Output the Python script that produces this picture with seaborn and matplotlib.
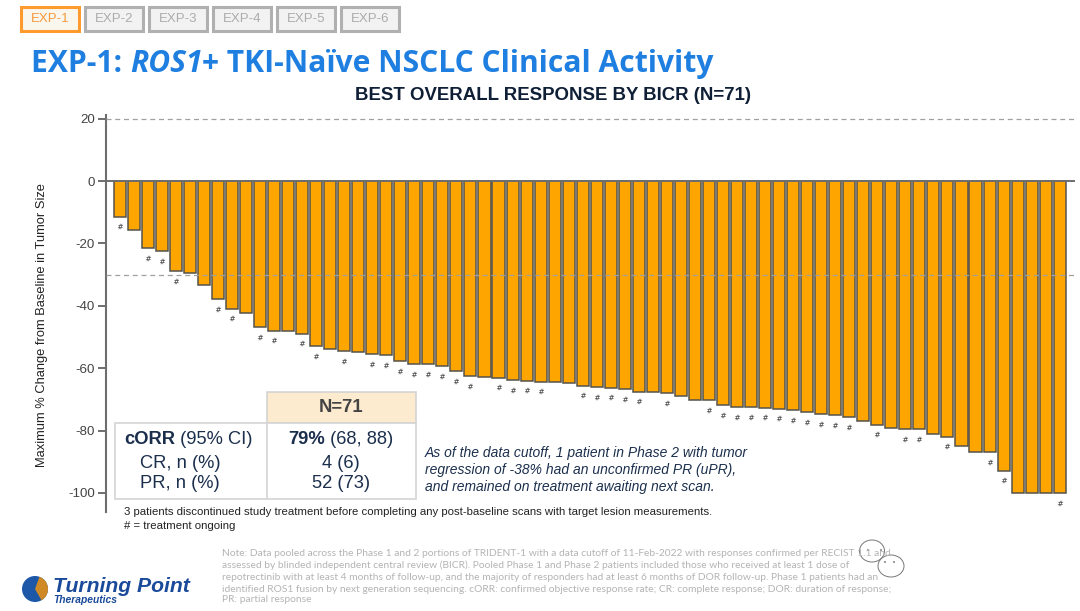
import pandas as pd
import matplotlib.pyplot as plt
import seaborn as sns
from matplotlib.patches import Rectangle, Ellipse, Circle, Wedge

pct_change = [-11.4, -15.6, -21.6, -22.4, -29.0, -29.6, -33.2, -37.9, -40.9, -42.2,
              -46.8, -48.0, -48.0, -48.9, -53.0, -54.0, -54.6, -54.9, -55.5, -55.9,
              -57.7, -58.8, -58.8, -59.4, -61.0, -62.6, -62.9, -63.0, -63.9, -64.0,
              -64.3, -64.5, -64.7, -65.6, -66.1, -66.2, -66.7, -67.5, -67.5, -68.1,
              -69.0, -70.3, -70.3, -71.9, -72.5, -72.5, -72.6, -73.0, -73.5, -74.1,
              -74.8, -75.0, -75.8, -76.9, -78.1, -79.1, -79.5, -79.6, -81.0, -81.9,
              -84.8, -86.9, -86.9, -92.8, -100, -100, -100, -100]
ongoing = [0, 2, 3, 4, 7, 8, 10, 11, 13, 14, 16, 18, 19, 20, 21, 22, 23, 24, 25, 27,
           28, 29, 30, 33, 34, 35, 36, 37, 39, 42, 43, 44, 45, 46, 47, 48, 49, 50, 51,
           52, 54, 56, 57, 59, 62, 63, 67]
y_ticks = [20, 0, -20, -40, -60, -80, -100]
ref_lines = [20, -30]
tabs = ['EXP-1', 'EXP-2', 'EXP-3', 'EXP-4', 'EXP-5', 'EXP-6']

sns.set_theme(style='white')
plt.rcParams['font.family'] = ['Liberation Sans', 'DejaVu Sans']
plt.rcParams['axes.unicode_minus'] = False

NAVY = '#1b2f4d'
BLUE = '#1f7fe0'

fig = plt.figure(figsize=(10.8, 6.11), dpi=100)
ax = fig.add_axes([106 / 1080, 1 - 511.7 / 611, 969 / 1080, 396.2 / 611])

df = pd.DataFrame({'patient': range(len(pct_change)), 'change': pct_change})
sns.barplot(data=df, x='patient', y='change', color='#ffa500', saturation=1, width=0.86,
            edgecolor='#55524a', linewidth=1.1, ax=ax, zorder=3)

# hash marks under the patients still on treatment
marks = df[df['patient'].isin(ongoing)]
sns.scatterplot(x=marks['patient'], y=marks['change'] - 3.1, marker=r'$\#$', s=15, color='#333333',
                linewidth=0, ax=ax, zorder=4)

for val in ref_lines:
    ax.axhline(val, color='#a0a0a0', lw=0.9, ls=(0, (4, 3)), zorder=4)
ax.axhline(0, color='#6e6e6e', lw=1.4, zorder=5)

ax.set_xlim(-0.976, 68.09)
ax.set_ylim(-106, 21)
ax.set_yticks(y_ticks)
ax.set_yticklabels([str(v) for v in y_ticks])
ax.set_xticks([])
ax.set_xlabel('')
ax.set_ylabel('')
ax.spines[['top', 'right', 'bottom']].set_visible(False)
ax.spines['left'].set_color('#6e6e6e')
ax.spines['left'].set_linewidth(1.5)
ax.tick_params(axis='y', left=True, length=5.8, width=1.2, color='#555555', labelsize=9.6,
               labelcolor='#444444', pad=2.2)

# everything around the plot is placed in pixel coordinates
pg = fig.add_axes([0, 0, 1, 1], zorder=10)
pg.set_xlim(0, 1080)
pg.set_ylim(611, 0)
pg.axis('off')
pg.patch.set_alpha(0)
renderer = fig.canvas.get_renderer()


def runs(x, y, parts, anchor='left', **kw):
    # pieces of one line in different weights, laid out one after the other
    items = [pg.text(x, y, s, va='center', ha='left', **kw, **st) for s, st in parts]
    widths = [t.get_window_extent(renderer).width for t in items]
    # trailing spaces are measured, so the widths can simply be added
    start = x - sum(widths) / 2 if anchor == 'center' else x
    for t, w in zip(items, widths):
        t.set_x(start)
        start += w


# tab strip
for i, name in enumerate(tabs):
    active = i == 0
    left = 21 + 64 * i
    pg.add_patch(Rectangle((left, 7), 58, 24, fc='#f9f6ee' if active else '#f2f2f2',
                           ec='#ff9a2e' if active else '#b0b0b0', lw=2.2))
    pg.text(left + 29, 18.5, name, ha='center', va='center', fontsize=9.5,
            color='#f59a3a' if active else '#acacac')

# headings
runs(31, 64, [('EXP-1: ', {'weight': 'bold'}), ('ROS1', {'weight': 'bold', 'style': 'italic'}),
              ('+ TKI-Naïve NSCLC Clinical Activity', {'weight': 'bold'})],
     fontsize=21.6, color=BLUE, family='Open Sans')
pg.text(553, 95, 'BEST OVERALL RESPONSE BY BICR (N=71)', ha='center', va='center',
        fontsize=13.45, weight='bold', color='#0f1f36')
pg.text(42, 325, 'Maximum % Change from Baseline in Tumor Size', rotation=90, ha='center', va='center',
        fontsize=9.3, color='#222222')

# response table
pg.add_patch(Rectangle((267, 392), 149, 31, fc='#fdebd0', ec='#d4d4d4', lw=1.2))
pg.add_patch(Rectangle((114.5, 423), 301.5, 76, fc='white', ec='#d4d4d4', lw=1.2))
pg.plot([267, 267], [423, 499], color='#d4d4d4', lw=1.2)
pg.text(341, 408, 'N=71', ha='center', va='center', fontsize=13.3, weight='bold', color='#444444')
runs(124, 440, [('cORR', {'weight': 'bold'}), (' (95% CI)', {})], fontsize=13.2, color=NAVY)
pg.text(140, 463, 'CR, n (%)', va='center', fontsize=13.2, color=NAVY)
pg.text(140, 484, 'PR, n (%)', va='center', fontsize=13.2, color=NAVY)
runs(341, 440, [('79%', {'weight': 'bold'}), (' (68, 88)', {})], anchor='center', fontsize=13.2, color=NAVY)
pg.text(341, 463, '4 (6)', ha='center', va='center', fontsize=13.2, color=NAVY)
pg.text(341, 484, '52 (73)', ha='center', va='center', fontsize=13.2, color=NAVY)

# side note and footnotes
note_lines = ['As of the data cutoff, 1 patient in Phase 2 with tumor',
              'regression of -38% had an unconfirmed PR (uPR),',
              'and remained on treatment awaiting next scan.']
for yy, line in zip([453, 470, 487], note_lines):
    pg.text(425, yy, line, va='center', fontsize=10, style='italic', color=NAVY)
pg.text(124, 512, '3 patients discontinued study treatment before completing any post-baseline scans '
        'with target lesion measurements.', va='center', fontsize=8.17, color='#222222')
pg.text(124, 526, '# = treatment ongoing', va='center', fontsize=8.17, color='#222222')

small_print = ['Note: Data pooled across the Phase 1 and 2 portions of TRIDENT-1 with a data cutoff of '
               '11-Feb-2022 with responses confirmed per RECIST 1.1 and',
               'assessed by blinded independent central review (BICR). Pooled Phase 1 and Phase 2 patients '
               'included those who received at least 1 dose of',
               'repotrectinib with at least 4 months of follow-up, and the majority of responders had at '
               'least 6 months of DOR follow-up. Phase 1 patients had an',
               'identified ROS1 fusion by next generation sequencing. cORR: confirmed objective response '
               'rate; CR: complete response; DOR: duration of response;',
               'PR: partial response']
for yy, line in zip([553, 565, 577, 589, 600], small_print):
    pg.text(222, yy, line, va='center', fontsize=7.4, color='#b4b4b4', family='Lato')

# watermark bubbles
pg.add_patch(Ellipse((872, 551), 25, 22, fc='white', ec='#777777', lw=0.7))
pg.add_patch(Ellipse((891, 566), 26, 22, fc='white', ec='#777777', lw=0.7))
for xx, yy in [(868, 550), (881, 550), (885, 562), (894, 562)]:
    pg.add_patch(Circle((xx, yy), 0.9, fc='#666666', ec='none'))

# logo
pg.add_patch(Circle((35, 589), 13, fc='#1c57a8', ec='none'))
pg.add_patch(Wedge((35, 589), 13, -70, 60, fc='#cf8a26', ec='none'))
pg.text(53, 586, 'Turning Point', va='center', fontsize=15.2, weight='bold', style='italic', color='#1a4a9a')
pg.text(53, 600, 'Therapeutics', va='center', fontsize=7.4, weight='bold', style='italic', color='#1a4a9a')

fig.savefig('out.png', dpi=100)
